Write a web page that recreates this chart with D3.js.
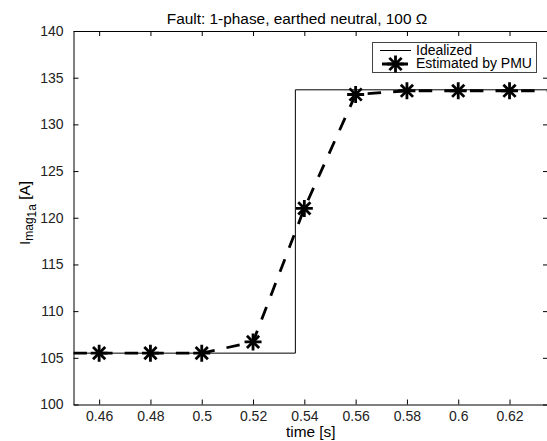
<!DOCTYPE html>
<html>
<head>
<meta charset="utf-8">
<script src="https://cdn.jsdelivr.net/npm/d3@7"></script>
<style>
	body { margin: 0; background: #fff; }
	svg { display: block; font-family: "Liberation Sans", Arial, Helvetica, sans-serif; }
</style>
</head>
<body>
<div id="main"></div>
<script>
// data
const idealTime = [0.44, 0.5365, 0.64];
const idealValue = [105.5, 133.7, 133.7];
const pmuTime = [0.44, 0.46, 0.48, 0.5, 0.52, 0.54, 0.56, 0.58, 0.6, 0.62, 0.64];
const pmuValue = [105.5, 105.5, 105.5, 105.5, 106.7, 121.0, 133.2, 133.6, 133.6, 133.6, 133.6];
const xTicks = [0.46, 0.48, 0.5, 0.52, 0.54, 0.56, 0.58, 0.6, 0.62];
const yTicks = [100, 105, 110, 115, 120, 125, 130, 135, 140];
const legendLabels = ["Idealized", "Estimated by PMU"];

let width = 547, height = 441;
let margin = { left: 73.5, right: 548, top: 31, bottom: 404.5 };

let svg = d3.select("#main").append("svg")
	.attr("width", width)
	.attr("height", height);

let x = d3.scaleLinear().domain([0.45, 0.635]).range([margin.left, margin.right]);
let y = d3.scaleLinear().domain([100, 140]).range([margin.bottom, margin.top]);

svg.append("defs").append("clipPath").attr("id", "clip")
	.append("rect")
	.attr("x", margin.left).attr("y", margin.top)
	.attr("width", margin.right - margin.left).attr("height", margin.bottom - margin.top);

let fmt = d => String(+d.toFixed(2));

// axes, ticks pointing inward on all four sides
let styleAxis = g => {
	g.select(".domain").attr("stroke", "#000").attr("stroke-width", 1);
	g.selectAll(".tick line").attr("stroke", "#000");
	g.selectAll("text").attr("font-size", 14).attr("fill", "#222");
};

svg.append("g")
	.attr("transform", "translate(0," + margin.bottom + ")")
	.call(d3.axisBottom(x).tickValues(xTicks).tickFormat(fmt).tickSize(-5).tickPadding(7).tickSizeOuter(0))
	.call(styleAxis);

svg.append("g")
	.attr("transform", "translate(0," + margin.top + ")")
	.call(d3.axisTop(x).tickValues(xTicks).tickFormat("").tickSize(-5).tickSizeOuter(0))
	.call(styleAxis);

svg.append("g")
	.attr("transform", "translate(" + margin.left + ",0)")
	.call(d3.axisLeft(y).tickValues(yTicks).tickFormat(d3.format("d")).tickSize(-5).tickPadding(10).tickSizeOuter(0))
	.call(styleAxis);

svg.append("g")
	.attr("transform", "translate(" + margin.right + ",0)")
	.call(d3.axisRight(y).tickValues(yTicks).tickFormat("").tickSize(-5).tickSizeOuter(0))
	.call(styleAxis);

// lines
let plot = svg.append("g").attr("clip-path", "url(#clip)");

let idealData = idealTime.map((t, i) => ({ t: t, v: idealValue[i] }));
let pmuData = pmuTime.map((t, i) => ({ t: t, v: pmuValue[i] }));

plot.append("path")
	.datum(idealData)
	.attr("fill", "none")
	.attr("stroke", "#000")
	.attr("stroke-width", 1)
	.attr("d", d3.line().x(d => x(d.t)).y(d => y(d.v)).curve(d3.curveStepAfter));

plot.append("path")
	.datum(pmuData)
	.attr("fill", "none")
	.attr("stroke", "#000")
	.attr("stroke-width", 2.8)
	.attr("stroke-dasharray", "13.5,12.1")
	.attr("d", d3.line().x(d => x(d.t)).y(d => y(d.v)));

// asterisk marker
let star = (g, cx, cy) => {
	let r = 8.5, q = r * 0.72;
	let segs = [[0, -r, 0, r], [-r, 0, r, 0], [-q, -q, q, q], [-q, q, q, -q]];
	segs.forEach(s => {
		g.append("line")
			.attr("x1", cx + s[0]).attr("y1", cy + s[1])
			.attr("x2", cx + s[2]).attr("y2", cy + s[3])
			.attr("stroke", "#000")
			.attr("stroke-width", 2.8);
	});
};

pmuData.forEach(d => star(plot, x(d.t), y(d.v)));

// legend
let legend = svg.append("g");
legend.append("rect")
	.attr("x", 372.5).attr("y", 42.5)
	.attr("width", 164).attr("height", 30)
	.attr("fill", "#fff")
	.attr("stroke", "#444")
	.attr("stroke-width", 1);

legend.append("line")
	.attr("x1", 380).attr("x2", 411).attr("y1", 50.5).attr("y2", 50.5)
	.attr("stroke", "#000").attr("stroke-width", 1);
legend.append("line")
	.attr("x1", 379).attr("x2", 412).attr("y1", 64).attr("y2", 64)
	.attr("stroke", "#000").attr("stroke-width", 2.8)
	.attr("stroke-dasharray", "10,6").attr("stroke-dashoffset", -3);
star(legend, 395.5, 64);

legend.selectAll("text.lab")
	.data(legendLabels)
	.enter()
	.append("text")
	.attr("class", "lab")
	.attr("x", 416)
	.attr("y", (d, i) => 55 + i * 13)
	.attr("font-size", 14)
	.attr("fill", "#000")
	.text(d => d);

// titles
svg.append("text")
	.attr("x", 297).attr("y", 23.5)
	.attr("text-anchor", "middle")
	.attr("font-size", 15.4)
	.attr("fill", "#000")
	.text("Fault: 1-phase, earthed neutral, 100 \u03A9");

svg.append("text")
	.attr("x", (margin.left + margin.right) / 2).attr("y", 437)
	.attr("text-anchor", "middle")
	.attr("font-size", 15.4)
	.attr("fill", "#000")
	.text("time [s]");

let ylab = svg.append("text")
	.attr("transform", "translate(30,213) rotate(-90)")
	.attr("text-anchor", "middle")
	.attr("font-size", 15.4)
	.attr("fill", "#000");
ylab.append("tspan").text("I");
ylab.append("tspan").attr("font-size", 12).attr("dy", 3).text("mag");
ylab.append("tspan").attr("font-size", 12).attr("dy", 2.5).text("1a");
ylab.append("tspan").attr("dy", -5.5).text(" [A]");
</script>
</body>
</html>
